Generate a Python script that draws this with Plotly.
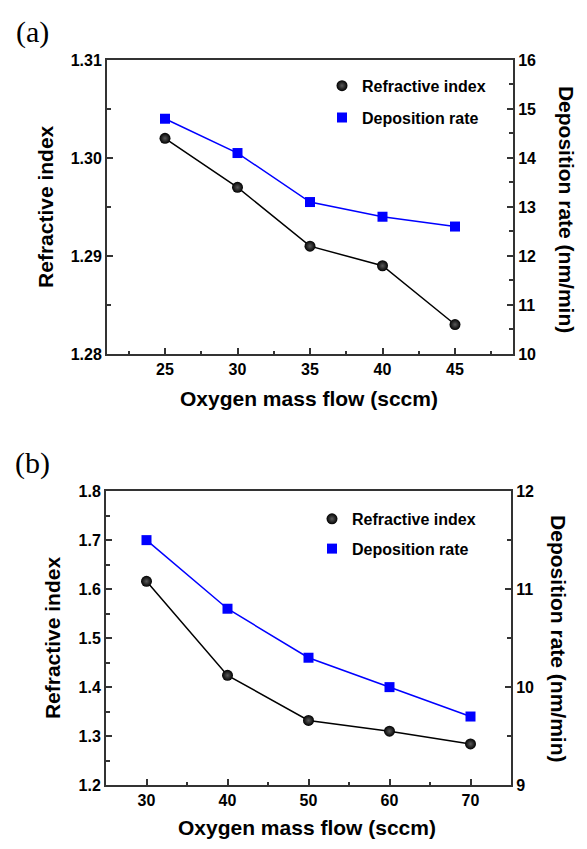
import plotly.graph_objects as go

# ---- data ----
flow_a = [25, 30, 35, 40, 45]
ri_a = [1.302, 1.297, 1.291, 1.289, 1.283]
dr_a = [14.8, 14.1, 13.1, 12.8, 12.6]

flow_b = [30, 40, 50, 60, 70]
ri_b = [1.616, 1.424, 1.332, 1.310, 1.284]
dr_b = [11.5, 10.8, 10.3, 10.0, 9.7]

W, H = 587, 849
FONT = "Liberation Sans"
AX = "#333333"

def px(xp):
    return xp / W

def py(yp):
    return 1 - yp / H

fig = go.Figure()

def add_panel(xs, ri, dr, xa, ya_l, ya_r, legend_name):
    # lines
    fig.add_trace(go.Scatter(x=xs, y=ri, mode="lines", line=dict(color="black", width=1.5),
                             xaxis=xa, yaxis=ya_l, showlegend=False, hoverinfo="skip"))
    fig.add_trace(go.Scatter(x=xs, y=dr, mode="lines", line=dict(color="#0000FF", width=1.5),
                             xaxis=xa, yaxis=ya_r, showlegend=False, hoverinfo="skip"))
    # markers
    fig.add_trace(go.Scatter(x=xs, y=ri, mode="markers", name="Refractive index",
                             marker=dict(symbol="circle", size=11, color="black",
                                         gradient=dict(type="radial", color="#5a5a5a"),
                                         line=dict(width=0)),
                             xaxis=xa, yaxis=ya_l, legend=legend_name, legendgroup=legend_name + "ri"))
    fig.add_trace(go.Scatter(x=xs, y=dr, mode="markers", name="Deposition rate",
                             marker=dict(symbol="square", size=10, color="#0000FF", line=dict(width=0)),
                             xaxis=xa, yaxis=ya_r, legend=legend_name, legendgroup=legend_name + "dr"))

add_panel(flow_a, ri_a, dr_a, "x", "y", "y2", "legend")
add_panel(flow_b, ri_b, dr_b, "x2", "y3", "y4", "legend2")

tickfont = dict(family=FONT, size=16, color="black", weight="bold")

def xaxis_cfg(dom, rng, tick0, dtick, mdtick):
    return dict(domain=dom, range=rng, tick0=tick0, dtick=dtick, ticks="inside", ticklen=6,
                tickwidth=1.5, tickcolor=AX, showline=True, linecolor=AX, linewidth=2,
                mirror=True, showgrid=False, zeroline=False, tickfont=tickfont,
                minor=dict(ticks="inside", ticklen=3, tick0=tick0, dtick=mdtick, tickcolor=AX, tickwidth=1.5))

def yaxis_cfg(dom, rng, dtick, mdtick, fmt, side="left", overlay=None, anchor=None):
    d = dict(range=rng, tick0=rng[0], dtick=dtick, ticks="inside", ticklen=6, tickwidth=1.5,
             tickcolor=AX, showline=True, linecolor=AX, linewidth=2, showgrid=False,
             zeroline=False, tickfont=tickfont, tickformat=fmt, side=side, anchor=anchor,
             minor=dict(ticks="inside", ticklen=4, tick0=rng[0], dtick=mdtick, tickcolor=AX, tickwidth=1.5))
    if overlay:
        d["overlaying"] = overlay
    else:
        d["domain"] = dom
    return d

xa_dom = [px(107), px(513)]
ya_dom = [py(353), py(53)]
xb_dom = [px(106), px(511)]
yb_dom = [py(793), py(493)]

legfont = dict(family=FONT, size=16, color="black", weight="bold")

fig.update_layout(
    width=W, height=H, margin=dict(l=0, r=0, t=0, b=0),
    paper_bgcolor="white", plot_bgcolor="white",
    xaxis=xaxis_cfg(xa_dom, [21, 49], 25, 5, 2.5),
    yaxis=yaxis_cfg(ya_dom, [1.28, 1.31], 0.01, 0.005, ".2f", anchor="x"),
    yaxis2=yaxis_cfg(None, [10, 16], 1, 0.5, "d", side="right", overlay="y", anchor="x"),
    xaxis2=xaxis_cfg(xb_dom, [25, 75], 30, 10, 5) | dict(anchor="y3"),
    yaxis3=yaxis_cfg(yb_dom, [1.2, 1.8], 0.1, 0.05, ".1f", anchor="x2"),
    yaxis4=yaxis_cfg(None, [9, 12], 1, 0.5, "d", side="right", overlay="y3", anchor="x2"),
    legend=dict(x=px(322), y=py(62), xanchor="left", yanchor="top", font=legfont,
                bgcolor="rgba(0,0,0,0)", tracegroupgap=8, itemwidth=30),
    legend2=dict(x=px(312), y=py(504), xanchor="left", yanchor="top", font=legfont,
                 bgcolor="rgba(0,0,0,0)", tracegroupgap=6, itemwidth=30),
)

title_font = dict(family=FONT, size=21, color="black", weight="bold")
ann = []
def add_text(text, x, y, angle=0, font=title_font):
    ann.append(dict(text=text, x=px(x), y=py(y), xref="paper", yref="paper", showarrow=False,
                    textangle=angle, font=font, xanchor="center", yanchor="middle"))

label_font = dict(family="Liberation Serif", size=30, color="black")
add_text("(a)", 32, 24, font=label_font)
add_text("(b)", 32, 464, font=label_font)
add_text("Refractive index", 46, 203, angle=-90)
add_text("Deposition rate (nm/min)", 566, 205, angle=90)
add_text("Oxygen mass flow (sccm)", 309, 398)
add_text("Refractive index", 52, 643, angle=-90)
add_text("Deposition rate (nm/min)", 559, 643, angle=90)
add_text("Oxygen mass flow (sccm)", 307, 836)
fig.update_layout(annotations=ann)

fig.write_html("out.html")
